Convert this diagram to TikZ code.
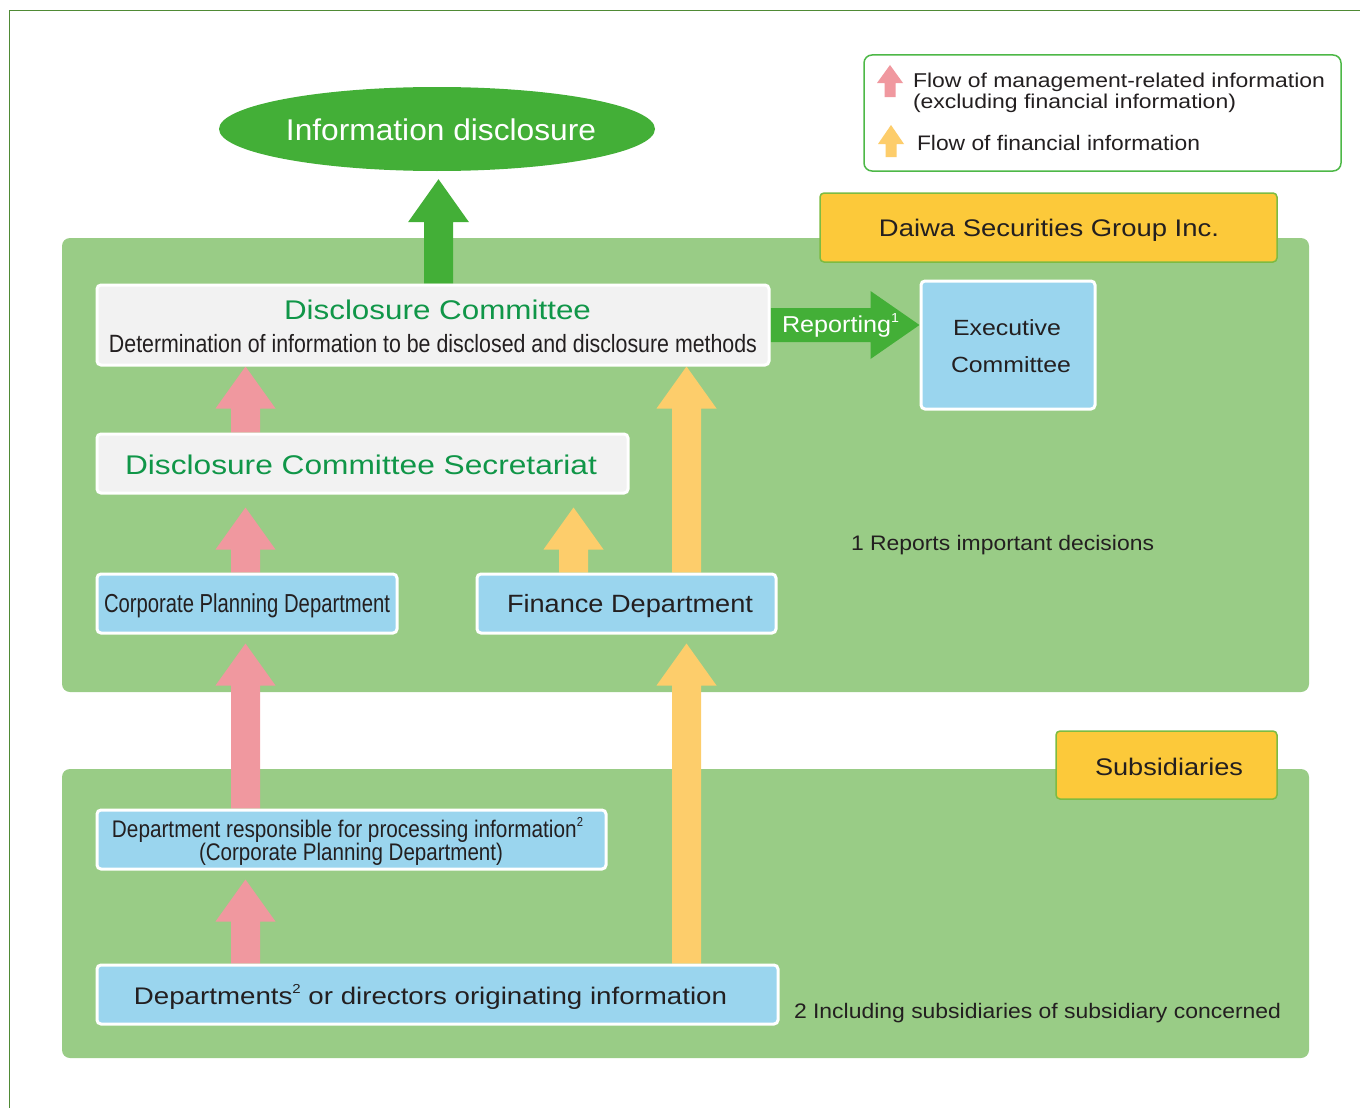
\documentclass[tikz,border=0pt]{standalone}
\usepackage{fontspec}
\setmainfont{Liberation Sans}
\usetikzlibrary{shapes.geometric,calc}
\pgfdeclarelayer{back}
\pgfdeclarelayer{mid}
\pgfsetlayers{back,mid,main}
\definecolor{panelc}{HTML}{99CC86}
\definecolor{grayc}{HTML}{F2F2F2}
\definecolor{bluec}{HTML}{9AD5EE}
\definecolor{pinkc}{HTML}{F0989F}
\definecolor{yarrc}{HTML}{FDCD6B}
\definecolor{yboxc}{HTML}{FCC93A}
\definecolor{yborder}{HTML}{7DBB42}
\definecolor{greenc}{HTML}{43AF37}
\definecolor{gtextc}{HTML}{109648}
\definecolor{textc}{HTML}{231F20}
\definecolor{framec}{HTML}{4F8A35}
\definecolor{legc}{HTML}{4DB847}
\newcommand\fw[2]{\resizebox{#1pt}{\height}{#2}}
\newcommand\fsz[1]{\fontsize{#1}{#1}\selectfont}
\newcommand\mysup[1]{\raisebox{0.42em}{\fontsize{13}{13}\selectfont #1}}
\newcommand\blockarrow[6]{\fill[#1] ($(#2)+(-#4,0)$) -- ($(#3)+(-#4,#6)$) -- ($(#3)+(-#5,#6)$) -- (#3) -- ($(#3)+(#5,#6)$) -- ($(#3)+(#4,#6)$) -- ($(#2)+(#4,0)$) -- cycle;}
\tikzset{
  panel/.style={fill=panelc, rounded corners=8pt, inner sep=0pt, draw=none},
  graybox/.style={fill=grayc, draw=white, line width=3pt, rounded corners=4pt, inner sep=0pt},
  bluebox/.style={fill=bluec, draw=white, line width=3pt, rounded corners=4pt, inner sep=0pt},
  yelbox/.style={fill=yboxc, draw=yborder, line width=1.5pt, rounded corners=4pt, inner sep=0pt},
  legbox/.style={fill=white, draw=legc, line width=1.5pt, rounded corners=8pt, inner sep=0pt},
  txt/.style={inner sep=0pt, anchor=base, text=textc},
  wtxt/.style={inner sep=0pt, anchor=base, text=white},
  gtxt/.style={inner sep=0pt, anchor=base, text=gtextc},
}
\begin{document}
\begin{tikzpicture}[x=1pt,y=-1pt]
\useasboundingbox (0,0) rectangle (1360,1108);
\draw[framec, line width=1pt] (9,1108) -- (9,11) -- (1360,11);

% panels
\begin{pgfonlayer}{back}
\node[panel, minimum width=1247, minimum height=454] (up) at (685.5,465) {};
\node[panel, minimum width=1247, minimum height=289] (low) at (685.5,913.5) {};
\end{pgfonlayer}

% ellipse
\node[ellipse, fill=greenc, minimum width=436, minimum height=84, inner sep=0pt] (info) at (437,129) {};
\node[wtxt, font=\fsz{30}] (infot) at (441,140) {\fw{310}{Information disclosure}};

% legend
\node[legbox, minimum width=477, minimum height=116] (leg) at (1102.5,113) {};
\coordinate (lp1) at (890,97); \coordinate (lp2) at (890,65);
\coordinate (ly1) at (891,157); \coordinate (ly2) at (891,125);
\blockarrow{pinkc}{lp1}{lp2}{5.5}{13}{18}
\blockarrow{yarrc}{ly1}{ly2}{5.5}{13}{19}
\node[txt, font=\fsz{20}] (l1) at (1119,88) {\fw{412}{Flow of management-related information}};
\node[txt, font=\fsz{20}] (l2) at (1074.5,108) {\fw{323}{(excluding financial information)}};
\node[txt, font=\fsz{21}] (l3) at (1058.5,150) {\fw{283}{Flow of financial information}};

% company labels
\node[yelbox, minimum width=457, minimum height=69] (daiwa) at (1048.5,227.5) {};
\node[txt, font=\fsz{24}] (daiwat) at (1049,236) {\fw{340}{Daiwa Securities Group Inc.}};
\node[yelbox, minimum width=221, minimum height=68] (subs) at (1166.5,765) {};
\node[txt, font=\fsz{24}] (subst) at (1169,775) {\fw{148}{Subsidiaries}};

% boxes
\node[graybox, minimum width=672, minimum height=80] (dc) at (433,325) {};
\node[graybox, minimum width=531, minimum height=59] (sec) at (362.5,463.5) {};
\node[bluebox, minimum width=300, minimum height=59] (cpd) at (247,603.5) {};
\node[bluebox, minimum width=299, minimum height=59] (fin) at (626.5,603.5) {};
\node[bluebox, minimum width=174, minimum height=128] (exec) at (1008,345) {};
\node[bluebox, minimum width=509, minimum height=59] (dpr) at (351.5,839.5) {};
\node[bluebox, minimum width=681, minimum height=59] (dep) at (437.5,994.5) {};

% texts in boxes
\node[gtxt, font=\fsz{27}] (dct) at (437.5,319) {\fw{307}{Disclosure Committee}};
\node[txt, font=\fsz{25}] (dcs) at (433,352) {\fw{648}{Determination of information to be disclosed and disclosure methods}};
\node[gtxt, font=\fsz{27}] (sect) at (361,474) {\fw{472}{Disclosure Committee Secretariat}};
\node[txt, font=\fsz{26}] (cpdt) at (247,612) {\fw{286}{Corporate Planning Department}};
\node[txt, font=\fsz{25}] (fint) at (630,612) {\fw{246}{Finance Department}};
\node[txt, font=\fsz{22}] (ex1) at (1007,335) {\fw{108}{Executive}};
\node[txt, font=\fsz{22}] (ex2) at (1011,372) {\fw{120}{Committee}};
\node[txt, font=\fsz{24}] (dpr1) at (347.5,837) {\fw{471}{Department responsible for processing information\mysup{2}}};
\node[txt, font=\fsz{24}] (dpr2) at (351,860) {\fw{304}{(Corporate Planning Department)}};
\node[txt, font=\fsz{24}] (dept) at (430.5,1004) {\fw{593}{Departments\mysup{2} or directors originating information}};
\node[txt, font=\fsz{21}] (note1) at (1002.5,550) {\fw{303}{1 Reports important decisions}};
\node[txt, font=\fsz{21}] (note2) at (1037.5,1018) {\fw{487}{2 Including subsidiaries of subsidiary concerned}};

% block arrows
\coordinate (colP) at (245.5,0);
\coordinate (colY1) at (573.5,0);
\coordinate (colY2) at (686.5,0);
\coordinate (colG) at (438.5,0);
\coordinate (gtip) at ($(info.south -| colG)+(0,8)$);
\coordinate (p2tip) at ($(sec.south -| colP)+(0,13)$);
\coordinate (p3tip) at ($(cpd.south -| colP)+(0,9)$);
\coordinate (p4tip) at ($(dpr.south -| colP)+(0,9)$);
\coordinate (y1tip) at ($(sec.south -| colY1)+(0,13)$);
\coordinate (y3tip) at ($(fin.south -| colY2)+(0,9)$);
\coordinate (rt) at (exec.west |- dc.east);
\begin{pgfonlayer}{mid}
\blockarrow{greenc}{dc.north -| colG}{gtip}{14.5}{30.5}{43}
\blockarrow{pinkc}{sec.north -| colP}{dc.south -| colP}{14.5}{30}{42}
\blockarrow{pinkc}{cpd.north -| colP}{p2tip}{14.5}{30}{42}
\blockarrow{pinkc}{dpr.north -| colP}{p3tip}{14.5}{30}{42}
\blockarrow{pinkc}{dep.north -| colP}{p4tip}{14.5}{30}{42}
\blockarrow{yarrc}{fin.north -| colY1}{y1tip}{14.5}{30}{42}
\blockarrow{yarrc}{fin.north -| colY2}{dc.south -| colY2}{14.5}{30}{42}
\blockarrow{yarrc}{dep.north -| colY2}{y3tip}{14.5}{30}{42}
\fill[greenc] ($(dc.east)+(0,-17)$) -- ($(rt)+(-49,-17)$) -- ($(rt)+(-49,-34)$) -- (rt) -- ($(rt)+(-49,34)$) -- ($(rt)+(-49,17)$) -- ($(dc.east)+(0,17)$) -- cycle;
\end{pgfonlayer}
\node[wtxt, font=\fsz{23}] (rep) at (840.5,332) {\fw{117}{Reporting\mysup{1}}};
\end{tikzpicture}
\end{document}
